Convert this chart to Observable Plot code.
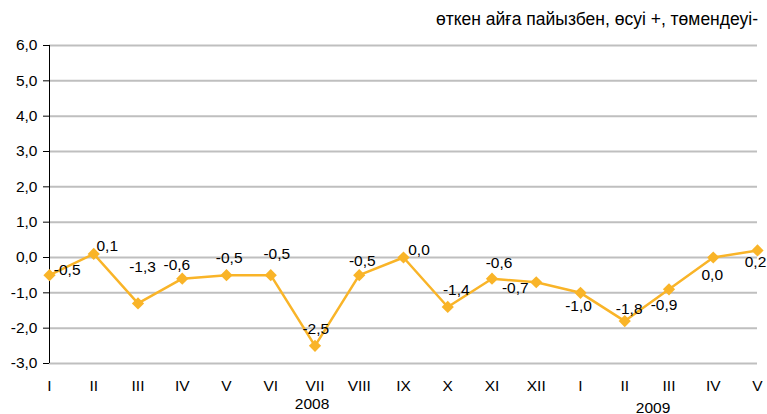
<!DOCTYPE html>
<html>
<head>
<meta charset="utf-8">
<script src="https://cdn.jsdelivr.net/npm/d3@7"></script>
<script src="https://cdn.jsdelivr.net/npm/@observablehq/plot@0.6"></script>
<style>
  html, body { margin: 0; padding: 0; background: #fff; }
  #title { height: 34px; box-sizing: border-box; padding-top: 9px; padding-right: 9px;
           text-align: right; font: 17.5px "Liberation Sans", Arial, sans-serif; line-height: 20px; color: #000; width: 767px; }
  svg { display: block; }
</style>
</head>
<body>
<div id="title">өткен айға пайызбен, өсуі +, төмендеуі-</div>
<div id="chart"></div>
<script>
const months = ["I","II","III","IV","V","VI","VII","VIII","IX","X","XI","XII","I","II","III","IV","V"];
const values = [-0.5, 0.1, -1.3, -0.6, -0.5, -0.5, -2.5, -0.5, 0.0, -1.4, -0.6, -0.7, -1.0, -1.8, -0.9, 0.0, 0.2];
const yTicks = [-3, -2, -1, 0, 1, 2, 3, 4, 5, 6];
const years = ["2008", "2009"];
const yearMonthIndex = [6, 14];

// label placement (layout, not data)
const labelDx = [17.7, 13.5, 4.5, -5.4, 2.7, 6, 0.8, 3, 15.5, 8.5, 7, -21, -2, 4.4, -5, -1, -2];
const labelDy = [-5, -8, -36, -13.6, -16.7, -21, -17, -14, -7, -17, -16, 6, 13, -12, 15.5, 18, 12];
const yearDx = [-3, -16];
const yearDy = [45, 49];

const fmt = d => (d < 0 ? "-" : "") + Math.abs(d).toFixed(1).replace(".", ",");
const data = values.map((v, i) => ({i, v, m: months[i]}));
const color = "#F9B428";
const font = "'Liberation Sans', Arial, sans-serif";
const fs = 15.5;

const marks = [
  Plot.ruleY(yTicks, {x1: 0, x2: months.length - 1, stroke: "#BFBFBF", strokeWidth: 2}),
  Plot.ruleX([0], {y1: -3, y2: 6, stroke: "#000", strokeWidth: 1}),
  Plot.axisY({ticks: yTicks, tickFormat: fmt, tickSize: 6, tickPadding: 6, stroke: "#000", fontSize: fs, fill: "#000", label: null}),
  Plot.axisX({ticks: d3.range(months.length), tickFormat: i => months[i], tickSize: 0, tickPadding: 16, fontSize: fs, fill: "#000", label: null}),
  Plot.line(data, {x: "i", y: "v", stroke: color, strokeWidth: 2.5}),
  Plot.dot(data, {x: "i", y: "v", symbol: "diamond2", r: 5.5, fill: color, stroke: null})
];
data.forEach((d, k) => {
  marks.push(Plot.text([d], {x: "i", y: "v", text: e => fmt(e.v), dx: labelDx[k], dy: labelDy[k], fontSize: fs, fill: "#000"}));
});
years.forEach((y, k) => {
  marks.push(Plot.text([y], {x: () => yearMonthIndex[k], frameAnchor: "bottom", text: e => e, dx: yearDx[k], dy: yearDy[k], fontSize: fs, fill: "#000"}));
});

const chart = Plot.plot({
  width: 767,
  height: 380,
  marginTop: 11,
  marginBottom: 51,
  marginLeft: 49,
  marginRight: 10,
  style: {fontFamily: font, fontSize: fs + "px", background: "#fff", color: "#000"},
  x: {type: "linear", domain: [0, months.length - 1]},
  y: {domain: [-3, 6]},
  marks
});
document.getElementById("chart").appendChild(chart);
</script>
</body>
</html>
